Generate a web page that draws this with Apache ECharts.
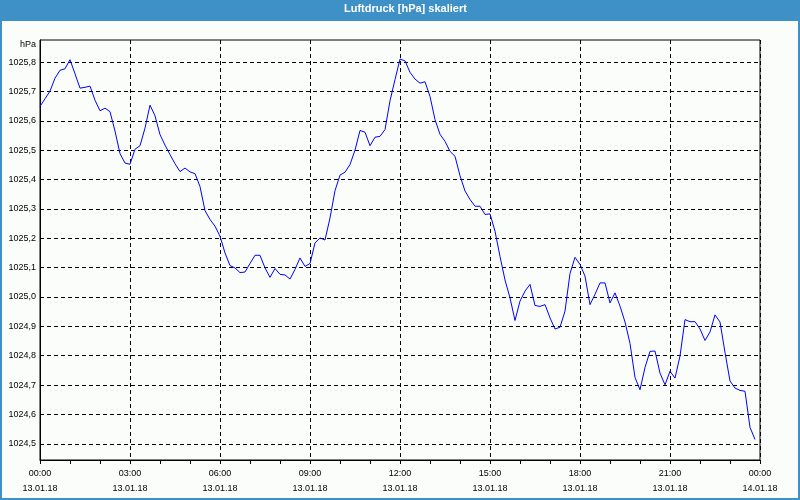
<!DOCTYPE html>
<html>
<head>
<meta charset="utf-8">
<script src="https://cdn.jsdelivr.net/npm/echarts@6/dist/echarts.min.js"></script>
<style>
html,body{margin:0;padding:0;background:#fbfdfb;}
#c{width:800px;height:500px;}
</style>
</head>
<body>
<div id="c"></div>
<script>
// Luftdruck, 10-minute samples from 13.01.18 00:00 to 23:50
const stepMinutes = 10;
const pressure = [
1025.649,1025.675,1025.701,1025.745,1025.772,1025.777,1025.808,1025.760,1025.711,1025.714,
1025.718,1025.670,1025.634,1025.643,1025.631,1025.565,1025.488,1025.456,1025.452,1025.503,
1025.515,1025.575,1025.653,1025.617,1025.553,1025.517,1025.485,1025.454,1025.427,1025.439,
1025.426,1025.420,1025.376,1025.294,1025.264,1025.241,1025.207,1025.150,1025.107,1025.099,
1025.083,1025.085,1025.114,1025.142,1025.142,1025.099,1025.067,1025.097,1025.077,1025.075,
1025.061,1025.094,1025.133,1025.104,1025.114,1025.184,1025.201,1025.194,1025.269,1025.362,
1025.415,1025.425,1025.451,1025.500,1025.567,1025.561,1025.515,1025.544,1025.547,1025.570,
1025.668,1025.740,1025.810,1025.804,1025.765,1025.742,1025.728,1025.733,1025.683,1025.604,
1025.554,1025.530,1025.496,1025.479,1025.413,1025.361,1025.332,1025.309,1025.309,1025.281,
1025.283,1025.224,1025.138,1025.058,1024.997,1024.920,1024.986,1025.020,1025.043,1024.971,
1024.968,1024.974,1024.929,1024.891,1024.897,1024.952,1025.080,1025.135,1025.111,1025.071,
1024.974,1025.009,1025.048,1025.048,1024.980,1025.014,1024.969,1024.915,1024.842,1024.726,
1024.684,1024.760,1024.815,1024.816,1024.741,1024.701,1024.747,1024.724,1024.799,1024.923,
1024.916,1024.916,1024.891,1024.852,1024.881,1024.939,1024.915,1024.811,1024.714,1024.690,
1024.682,1024.679,1024.556,1024.515
];
const xTickMinutes = [0,180,360,540,720,900,1080,1260,1440];
const xTickLabels = ['00:00\n13.01.18','03:00\n13.01.18','06:00\n13.01.18','09:00\n13.01.18',
  '12:00\n13.01.18','15:00\n13.01.18','18:00\n13.01.18','21:00\n13.01.18','00:00\n14.01.18'];
const yTicks = [1024.5,1024.6,1024.7,1024.8,1024.9,1025.0,1025.1,1025.2,1025.3,1025.4,1025.5,1025.6,1025.7,1025.8];
const yMin = 1024.445, yMax = 1025.875;

const seriesData = pressure.map((v,i)=>[i*stepMinutes, v]);
const labelFont = {fontFamily:'Liberation Sans', fontSize:9, color:'#000'};

const chart = echarts.init(document.getElementById('c'), null, {renderer:'canvas'});
chart.setOption({
  animation:false,
  backgroundColor:'#fbfdfb',
  title:{
    text:'Luftdruck [hPa] skaliert',
    left:344, top:3, padding:0,
    textStyle:{color:'#ffffff', fontFamily:'Liberation Sans', fontSize:11, fontWeight:'bold'}
  },
  graphic:[
    {type:'rect', z:-1, shape:{x:0,y:0,width:800,height:21}, style:{fill:'#3d91c6'}},
    {type:'rect', z:-1, shape:{x:1,y:1,width:798,height:498}, style:{fill:null, stroke:'#3d91c6', lineWidth:2}},
    {type:'text', x:36, y:45, style:{text:'hPa', align:'right', verticalAlign:'middle',
      fontFamily:'Liberation Sans', fontSize:9, fill:'#000'}}
  ],
  grid:{left:40,right:40,top:40,bottom:40,show:true,borderColor:'#000',borderWidth:1,backgroundColor:'transparent'},
  xAxis:{
    type:'value', min:0, max:1440, interval:180,
    axisLine:{show:true, lineStyle:{color:'#000', width:1}},
    axisTick:{show:true, length:4, lineStyle:{color:'#000'}},
    minorTick:{show:true, splitNumber:3, length:4, lineStyle:{color:'#000'}},
    splitLine:{show:true, lineStyle:{color:'#000', type:[4,3], width:1}},
    axisLabel:Object.assign({margin:6, lineHeight:15, showMinLabel:true, showMaxLabel:true,
      formatter:function(v){const i = xTickMinutes.indexOf(v); return i>=0 ? xTickLabels[i] : '';}}, labelFont)
  },
  yAxis:{
    type:'value', min:yMin, max:yMax,
    axisLine:{show:true, lineStyle:{color:'#000'}},
    axisTick:{show:false, customValues:yTicks},
    splitLine:{show:true, lineStyle:{color:'#000', type:[4,3], width:1}},
    axisLabel:Object.assign({margin:4, customValues:yTicks,
      formatter:function(v){return v.toFixed(1).replace('.',',');}}, labelFont)
  },
  series:[{
    type:'line', data:seriesData, showSymbol:false, symbol:'none',
    lineStyle:{color:'#0000ff', width:1}, itemStyle:{color:'#0000ff'}
  }]
});
</script>
</body>
</html>
